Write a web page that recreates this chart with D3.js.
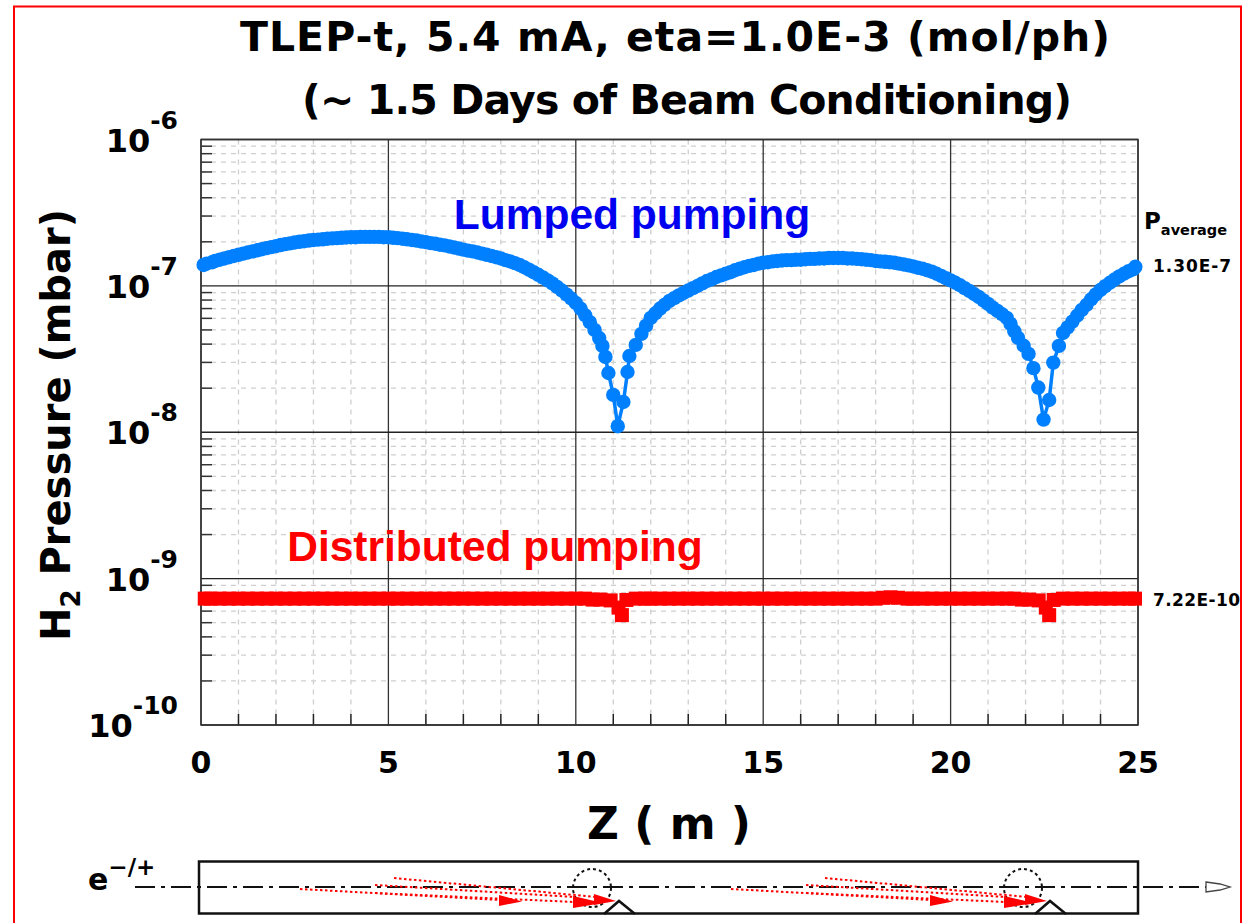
<!doctype html>
<html>
<head>
<script src="https://d3js.org/d3.v7.min.js"></script>
<style>
  body { margin: 0; background: white; }
  text { font-family: "DejaVu Sans", sans-serif; font-weight: 700; fill: black; }
</style>
</head>
<body>
<div id="chart"></div>
<script>
// values, pressure in units of 1e-7 mbar
var lumpedZ = [0.07,0.15,0.3,0.375,0.5,0.625,0.75,0.875,1,1.125,1.25,1.375,1.5,1.625,1.75,1.875,2,2.125,2.25,2.375,2.5,2.625,2.75,2.875,3,3.125,3.25,3.375,3.5,3.625,3.75,3.875,4,4.125,4.25,4.375,4.5,4.625,4.75,4.875,5,5.125,5.25,5.375,5.5,5.625,5.75,5.875,6,6.125,6.25,6.375,6.5,6.625,6.75,6.875,7,7.125,7.25,7.375,7.5,7.625,7.75,7.875,8,8.125,8.25,8.375,8.5,8.625,8.75,8.875,9,9.125,9.25,9.375,9.5,9.625,9.75,9.875,10,10.125,10.25,10.375,10.5,10.625,10.71,10.79,10.87,11,11.12,11.27,11.38,11.43,11.6,11.75,11.875,12,12.125,12.25,12.375,12.5,12.625,12.75,12.875,13,13.125,13.25,13.375,13.5,13.625,13.75,13.875,14,14.125,14.25,14.375,14.5,14.625,14.75,14.875,15,15.125,15.25,15.375,15.5,15.625,15.75,15.875,16,16.125,16.25,16.375,16.5,16.625,16.75,16.875,17,17.125,17.25,17.375,17.5,17.625,17.75,17.875,18,18.125,18.25,18.375,18.5,18.625,18.75,18.875,19,19.125,19.25,19.375,19.5,19.625,19.75,19.875,20,20.125,20.25,20.375,20.5,20.625,20.75,20.875,21,21.125,21.25,21.375,21.5,21.6,21.7,21.8,21.95,22.08,22.21,22.34,22.48,22.63,22.74,22.89,23,23.125,23.25,23.375,23.5,23.625,23.75,23.875,24,24.125,24.25,24.375,24.5,24.625,24.75,24.875,24.93];
var lumpedP = [1.39,1.42,1.45,1.48,1.51,1.54,1.57,1.60,1.63,1.66,1.69,1.72,1.75,1.78,1.81,1.84,1.87,1.90,1.93,1.95,1.98,2.00,2.02,2.04,2.06,2.07,2.08,2.10,2.11,2.12,2.13,2.14,2.15,2.15,2.16,2.16,2.16,2.16,2.16,2.15,2.15,2.13,2.12,2.10,2.08,2.06,2.04,2.01,1.99,1.96,1.94,1.91,1.89,1.86,1.83,1.80,1.77,1.74,1.72,1.69,1.66,1.63,1.60,1.57,1.54,1.50,1.47,1.43,1.39,1.34,1.29,1.24,1.19,1.14,1.09,1.04,0.984,0.93,0.875,0.82,0.765,0.70,0.63,0.565,0.50,0.44,0.389,0.327,0.254,0.180,0.110,0.161,0.258,0.332,0.395,0.47,0.535,0.604,0.65,0.70,0.745,0.79,0.825,0.86,0.895,0.929,0.965,1.00,1.04,1.08,1.11,1.15,1.18,1.21,1.24,1.28,1.31,1.34,1.37,1.39,1.42,1.44,1.45,1.47,1.48,1.49,1.50,1.50,1.51,1.51,1.52,1.53,1.53,1.54,1.54,1.55,1.55,1.55,1.55,1.54,1.54,1.53,1.52,1.51,1.50,1.48,1.47,1.46,1.45,1.44,1.42,1.40,1.38,1.36,1.33,1.31,1.28,1.25,1.21,1.17,1.13,1.09,1.05,1.01,0.965,0.925,0.88,0.84,0.795,0.753,0.71,0.675,0.64,0.604,0.55,0.49,0.441,0.39,0.343,0.274,0.202,0.122,0.166,0.299,0.389,0.477,0.52,0.57,0.625,0.685,0.74,0.81,0.875,0.939,0.995,1.05,1.105,1.16,1.21,1.26,1.30,1.35];

// pressure in units of 1e-10 mbar
var distZ = [0.1,0.25,0.5,0.75,1,1.25,1.5,1.75,2,2.25,2.5,2.75,3,3.25,3.5,3.75,4,4.25,4.5,4.75,5,5.25,5.5,5.75,6,6.25,6.5,6.75,7,7.25,7.5,7.75,8,8.25,8.5,8.75,9,9.25,9.5,9.75,10,10.25,10.45,10.66,10.93,11.14,11.23,11.35,11.6,11.85,12,12.25,12.5,12.75,13,13.25,13.5,13.75,14,14.25,14.5,14.75,15,15.25,15.5,15.75,16,16.25,16.5,16.75,17,17.25,17.5,17.75,18,18.2,18.4,18.6,18.85,19,19.25,19.5,19.75,20,20.25,20.5,20.75,21,21.25,21.5,21.7,21.9,22.1,22.35,22.54,22.63,22.75,23,23.25,23.5,23.75,24,24.25,24.5,24.75,24.92];
var distP = [7.3,7.3,7.3,7.3,7.3,7.3,7.3,7.3,7.3,7.3,7.3,7.3,7.3,7.3,7.3,7.3,7.3,7.3,7.3,7.3,7.3,7.3,7.3,7.3,7.3,7.3,7.3,7.3,7.3,7.3,7.3,7.3,7.3,7.3,7.3,7.3,7.3,7.3,7.3,7.3,7.3,7.3,7.19,7.19,7.1,6.34,5.63,7.15,7.3,7.3,7.3,7.3,7.3,7.3,7.3,7.3,7.3,7.3,7.3,7.3,7.3,7.3,7.3,7.3,7.3,7.3,7.3,7.3,7.3,7.3,7.3,7.3,7.3,7.3,7.3,7.4,7.45,7.4,7.3,7.3,7.3,7.3,7.3,7.3,7.3,7.3,7.3,7.3,7.3,7.3,7.3,7.19,7.19,7.1,6.34,5.63,7.15,7.3,7.3,7.3,7.3,7.3,7.3,7.3,7.3,7.3];

var xTicks = [0,5,10,15,20,25];
var xMinorTicks = [1,2,3,4,6,7,8,9,11,12,13,14,16,17,18,19,21,22,23,24];
var yExponents = [-6,-7,-8,-9,-10];
var yMinorFactors = [2,3,4,5,6,7,8,9];
var titleLines = ["TLEP-t, 5.4 mA, eta=1.0E-3 (mol/ph)", "(~ 1.5 Days of Beam Conditioning)"];
var averages = ["1.30E-7", "7.22E-10"];

var width = 1247, height = 923;
var svg = d3.select("#chart").append("svg").attr("width", width).attr("height", height).style("display", "block");

var x = d3.scaleLinear().domain([0, 25]).range([201, 1138]);
var y = d3.scaleLog().domain([1e-10, 1e-6]).range([725, 139.5]);

// red frame round the slide
svg.append("path").attr("d", "M14,923V6.5H1241V923").attr("fill", "none").attr("stroke", "#f00").attr("stroke-width", 2);

// minor grid
var minorY = [];
yExponents.slice(1).forEach(function(e) {
  yMinorFactors.forEach(function(f) { minorY.push(f * Math.pow(10, e)); });
});
svg.selectAll(".gx").data(xMinorTicks).enter().append("line")
  .attr("x1", function(d) { return x(d); }).attr("x2", function(d) { return x(d); })
  .attr("y1", y(1e-6)).attr("y2", y(1e-10))
  .attr("stroke", "#cfcfcf").attr("stroke-width", 1.3).attr("stroke-dasharray", "5,5");
svg.selectAll(".gy").data(minorY).enter().append("line")
  .attr("x1", x(0)).attr("x2", x(25))
  .attr("y1", function(d) { return y(d); }).attr("y2", function(d) { return y(d); })
  .attr("stroke", "#cfcfcf").attr("stroke-width", 1.3).attr("stroke-dasharray", "5,5");

// major grid
svg.selectAll(".mx").data(xTicks).enter().append("line")
  .attr("x1", function(d) { return x(d); }).attr("x2", function(d) { return x(d); })
  .attr("y1", y(1e-6)).attr("y2", y(1e-10)).attr("stroke", "#333").attr("stroke-width", 1.3);
svg.selectAll(".my").data(yExponents).enter().append("line")
  .attr("x1", x(0)).attr("x2", x(25))
  .attr("y1", function(d) { return y(Math.pow(10, d)); }).attr("y2", function(d) { return y(Math.pow(10, d)); })
  .attr("stroke", "#222").attr("stroke-width", 1.3);

// tick marks inside the frame
svg.selectAll(".tx").data(xMinorTicks).enter().append("line")
  .attr("x1", function(d) { return x(d); }).attr("x2", function(d) { return x(d); })
  .attr("y1", y(1e-10)).attr("y2", y(1e-10) - 11).attr("stroke", "#222").attr("stroke-width", 1.5);
svg.selectAll(".ty").data(minorY).enter().append("line")
  .attr("x1", x(0)).attr("x2", x(0) + 11)
  .attr("y1", function(d) { return y(d); }).attr("y2", function(d) { return y(d); })
  .attr("stroke", "#333").attr("stroke-width", 1.5);
svg.append("rect").attr("x", x(0)).attr("y", y(1e-6)).attr("width", x(25) - x(0)).attr("height", y(1e-10) - y(1e-6))
  .attr("fill", "none").attr("stroke", "#333").attr("stroke-width", 1.5);

// axis labels
svg.selectAll(".xl").data(xTicks).enter().append("text")
  .attr("x", function(d) { return x(d); }).attr("y", 773).attr("text-anchor", "middle")
  .attr("font-size", 30).text(function(d) { return d; });
yExponents.forEach(function(e) {
  var t = svg.append("text").attr("x", 178).attr("y", y(Math.pow(10, e)) + 12).attr("text-anchor", "end")
    .attr("font-size", 32);
  t.append("tspan").text("10");
  t.append("tspan").attr("dy", -23).attr("font-size", 25).text(e);
});

svg.selectAll(".title").data(titleLines).enter().append("text")
  .attr("x", function(d, i) { return i == 0 ? 240 : 302; }).attr("y", function(d, i) { return 51 + i * 63; })
  .attr("font-size", 41).attr("textLength", function(d, i) { return i == 0 ? 870 : 770; })
  .text(function(d) { return d; });

svg.append("text").attr("x", 669).attr("y", 839).attr("text-anchor", "middle")
  .attr("font-size", 44).attr("xml:space", "preserve").text("Z ( m )");

var yl = svg.append("text").attr("transform", "translate(70,425) rotate(-90)").attr("text-anchor", "middle")
  .attr("font-size", 40);
yl.append("tspan").text("H");
yl.append("tspan").attr("font-size", 26).attr("dy", 10).text("2");
yl.append("tspan").attr("dy", -10).text(" Pressure (mbar)");

// series
var line = d3.line().x(function(d) { return x(d[0]); }).y(function(d) { return y(d[1]); });
var distPoints = d3.zip(distZ, distP.map(function(p) { return p * 1e-10; }));
svg.selectAll(".dist").data(distPoints).enter().append("rect")
  .attr("x", function(d) { return x(d[0]) - 7; }).attr("y", function(d) { return y(d[1]) - 7; })
  .attr("width", 14).attr("height", 14).attr("fill", "#f00");

var lumpPoints = d3.zip(lumpedZ, lumpedP.map(function(p) { return p * 1e-7; }));
svg.append("path").datum(lumpPoints).attr("d", line).attr("fill", "none")
  .attr("stroke", "#0080ff").attr("stroke-width", 3.5);
svg.selectAll(".lump").data(lumpPoints).enter().append("circle")
  .attr("cx", function(d) { return x(d[0]); }).attr("cy", function(d) { return y(d[1]); })
  .attr("r", 7.2).attr("fill", "#0080ff");

// series names
svg.append("text").attr("x", 632).attr("y", 229).attr("text-anchor", "middle")
  .style("font-family", "Liberation Sans")
  .attr("font-size", 42.5).style("fill", "#0000f0").text("Lumped pumping");
svg.append("text").attr("x", 495).attr("y", 561).attr("text-anchor", "middle")
  .style("font-family", "Liberation Sans")
  .attr("font-size", 42.5).style("fill", "#f00").text("Distributed pumping");

// average values at the right
var pav = svg.append("text").attr("x", 1144).attr("y", 229).attr("font-size", 23);
pav.append("tspan").text("P");
pav.append("tspan").attr("font-size", 14.5).attr("dy", 6).text("average");
svg.append("text").attr("x", 1153).attr("y", 272).attr("font-size", 17).attr("textLength", 78).text(averages[0]);
svg.append("text").attr("x", 1153).attr("y", 606).attr("font-size", 17).attr("textLength", 87).text(averages[1]);

// beam pipe sketch
var cellShift = [0, 431];
svg.append("rect").attr("x", 199).attr("y", 861.5).attr("width", 939).attr("height", 52)
  .attr("fill", "none").attr("stroke", "#111").attr("stroke-width", 2.5);
svg.append("line").attr("x1", 135).attr("x2", 1207).attr("y1", 887).attr("y2", 887)
  .attr("stroke", "#111").attr("stroke-width", 2.2).attr("stroke-dasharray", "20,6,4,6");
svg.append("path").attr("d", "M1206,882L1220,884L1230,887L1220,890L1206,892Z").attr("fill", "white").attr("stroke", "#444").attr("stroke-width", 1.3);
var el = svg.append("text").attr("x", 88).attr("y", 890).attr("font-size", 30);
el.append("tspan").text("e");
el.append("tspan").attr("font-size", 23).attr("dy", -15).text("\u2212/+");

cellShift.forEach(function(dx) {
  var g = svg.append("g").attr("transform", "translate(" + dx + ",0)");
  g.append("circle").attr("cx", 592).attr("cy", 888).attr("r", 19).attr("fill", "none")
    .attr("stroke", "#111").attr("stroke-width", 2).attr("stroke-dasharray", "3,3");
  g.append("path").attr("d", "M604,914L619,901L635,914").attr("fill", "none").attr("stroke", "#111").attr("stroke-width", 2.5);
  [[300,889,500,900],[375,893,575,902],[375,885,575,897],[394,878,596,897]].forEach(function(r) {
    g.append("line").attr("x1", r[0]).attr("y1", r[1]).attr("x2", r[2]).attr("y2", r[3])
      .attr("stroke", "#f00").attr("stroke-width", 2).attr("stroke-dasharray", "2.5,2.5");
  });
  g.append("path").attr("d", "M499,895L522,901.5L499,906Z").attr("fill", "#f00");
  g.append("path").attr("d", "M573,896L603,903L573,908Z").attr("fill", "#f00");
  g.append("path").attr("d", "M594,894L616,901L594,905Z").attr("fill", "#f00");
});
</script>
</body>
</html>
